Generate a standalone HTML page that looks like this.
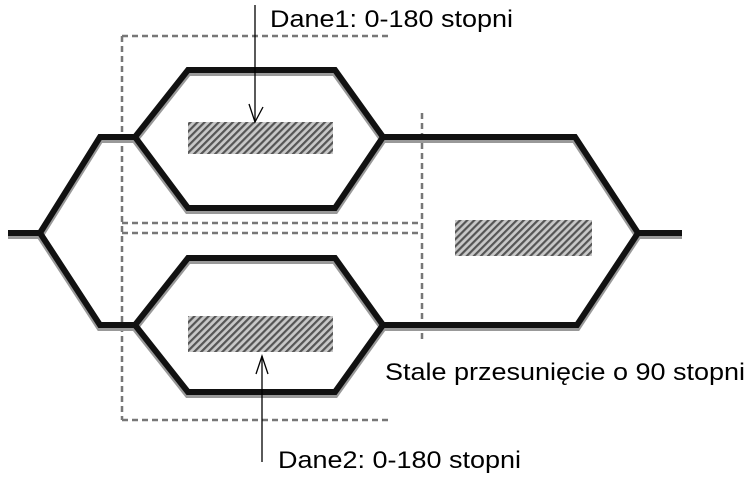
<!DOCTYPE html>
<html><head><meta charset="utf-8"><style>
html,body{margin:0;padding:0;background:#fff;}
svg{display:block;}
text{font-family:"Liberation Sans",sans-serif;font-size:24px;fill:#000;}
</style></head><body>
<svg width="749" height="480" viewBox="0 0 749 480">
<defs>
<pattern id="hatch" width="5" height="5" patternUnits="userSpaceOnUse" patternTransform="rotate(45)">
<rect width="5" height="5" fill="#c8c8c8"/><rect width="2.2" height="5" fill="#555"/>
</pattern>
</defs>
<g stroke="#777" stroke-width="2.5" stroke-dasharray="6,4" fill="none">
<line x1="122" y1="36" x2="392" y2="36"/>
<line x1="122" y1="36" x2="122" y2="420"/>
<line x1="122" y1="420" x2="390" y2="420"/>
<line x1="122" y1="223" x2="422" y2="223"/>
<line x1="122" y1="233" x2="422" y2="233"/>
<line x1="422" y1="113" x2="422" y2="340"/>
</g>
<g stroke="#999" stroke-width="8" fill="none" transform="translate(0,2)">
<polyline points="8,233 40,233 100,137 135,137 188,70 335,70 383,137 575,137 638,233 682,233"/>
<polyline points="40,233 100,325 135,325 188,392 335,392 383,325 577,325 638,233"/>
<polyline points="135,137 188,208 335,208 383,137"/>
<polyline points="135,325 188,258 335,258 383,325"/>
</g>
<g stroke="#111" stroke-width="6" fill="none" stroke-linejoin="miter">
<polyline points="8,233 40,233 100,137 135,137 188,70 335,70 383,137 575,137 638,233 682,233"/>
<polyline points="40,233 100,325 135,325 188,392 335,392 383,325 577,325 638,233"/>
<polyline points="135,137 188,208 335,208 383,137"/>
<polyline points="135,325 188,258 335,258 383,325"/>
</g>
<rect x="188" y="122" width="145" height="32" fill="url(#hatch)"/>
<rect x="455" y="220" width="137" height="36" fill="url(#hatch)"/>
<rect x="188" y="316" width="145" height="36" fill="url(#hatch)"/>
<g stroke="#000" stroke-width="1.3" fill="none">
<line x1="255" y1="5" x2="255" y2="122"/>
<polyline points="249,104 255,122 263,107"/>
</g>
<g stroke="#000" stroke-width="1.3" fill="none">
<line x1="262" y1="462" x2="262" y2="356"/>
<polyline points="256,374 262,356 268,374"/>
</g>
<text x="270" y="27" textLength="243" lengthAdjust="spacingAndGlyphs">Dane1: 0-180 stopni</text>
<text x="385" y="380" textLength="360" lengthAdjust="spacingAndGlyphs">Stale przesunięcie o 90 stopni</text>
<text x="278" y="468" textLength="243" lengthAdjust="spacingAndGlyphs">Dane2: 0-180 stopni</text>
</svg>
</body></html>
